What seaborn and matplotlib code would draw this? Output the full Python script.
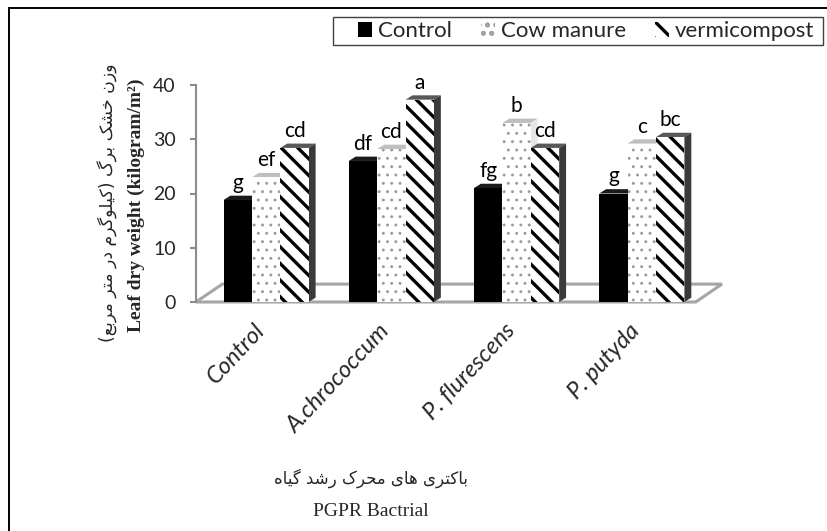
"""
Leaf dry weight of PGPR bacteria treatments under three fertilizers,
drawn as a pseudo-3D clustered bar chart.
"""

import numpy as np
import pandas as pd
import matplotlib
matplotlib.use('Agg')
import matplotlib.pyplot as plt
import seaborn as sns
from matplotlib.patches import Polygon, Patch, Rectangle
from matplotlib.transforms import ScaledTranslation

# data
bacteria = ['Control', 'A.chrococcum', 'P. flurescens', 'P. putyda']
fertilizers = ['Control', 'Cow manure', 'vermicompost']
control_vals = [18.8, 26.0, 21.0, 20.0]
cow_manure_vals = [23.0, 28.2, 33.0, 29.2]
vermicompost_vals = [28.4, 37.3, 28.4, 30.4]
control_letters = ['g', 'df', 'fg', 'g']
cow_manure_letters = ['ef', 'cd', 'b', 'c']
vermicompost_letters = ['cd', 'a', 'cd', 'bc']
y_ticks = [0, 10, 20, 30, 40]

y_label_fa = 'وزن خشک برگ (کیلوگرم در متر مربع)'
y_label_en = 'Leaf dry weight (kilogram/m\u00b2)'
x_label_fa = 'باکتری های محرک رشد گیاه'
x_label_en = 'PGPR Bactrial'

# Arabic presentation forms: isolated, final, initial, medial
FORMS = {
    'ا': ('\uFE8D', '\uFE8E', None, None),
    'ب': ('\uFE8F', '\uFE90', '\uFE91', '\uFE92'),
    'ت': ('\uFE95', '\uFE96', '\uFE97', '\uFE98'),
    'ح': ('\uFEA1', '\uFEA2', '\uFEA3', '\uFEA4'),
    'خ': ('\uFEA5', '\uFEA6', '\uFEA7', '\uFEA8'),
    'د': ('\uFEA9', '\uFEAA', None, None),
    'ر': ('\uFEAD', '\uFEAE', None, None),
    'ز': ('\uFEAF', '\uFEB0', None, None),
    'ش': ('\uFEB5', '\uFEB6', '\uFEB7', '\uFEB8'),
    'ع': ('\uFEC9', '\uFECA', '\uFECB', '\uFECC'),
    'ل': ('\uFEDD', '\uFEDE', '\uFEDF', '\uFEE0'),
    'م': ('\uFEE1', '\uFEE2', '\uFEE3', '\uFEE4'),
    'ن': ('\uFEE5', '\uFEE6', '\uFEE7', '\uFEE8'),
    'ه': ('\uFEE9', '\uFEEA', '\uFEEB', '\uFEEC'),
    'و': ('\uFEED', '\uFEEE', None, None),
    'ک': ('\uFB8E', '\uFB8F', '\uFB90', '\uFB91'),
    'گ': ('\uFB92', '\uFB93', '\uFB94', '\uFB95'),
    'ی': ('\uFBFC', '\uFBFD', '\uFBFE', '\uFBFF'),
}


def shape_rtl(text):
    """Join Persian letters and put them in visual (left-to-right) order."""
    out = []
    for i, ch in enumerate(text):
        if ch not in FORMS:
            out.append(ch)
            continue
        iso, fin, ini, med = FORMS[ch]
        prev = text[i - 1] if i > 0 else ''
        nxt = text[i + 1] if i + 1 < len(text) else ''
        join_prev = prev in FORMS and FORMS[prev][2] is not None
        join_next = nxt in FORMS and ini is not None
        if join_prev and join_next:
            out.append(med)
        elif join_prev:
            out.append(fin)
        elif join_next:
            out.append(ini)
        else:
            out.append(iso)
    visual = ''.join(reversed(out))
    return visual.translate(str.maketrans('()', ')('))


sns.set_style('white')
plt.rcParams['font.family'] = ['Lato', 'DejaVu Sans']
plt.rcParams['hatch.linewidth'] = 2.4

df = pd.DataFrame({
    'bacteria': bacteria * 3,
    'fertilizer': np.repeat(fertilizers, len(bacteria)),
    'weight': control_vals + cow_manure_vals + vermicompost_vals,
})

W, H = 828, 531
fig = plt.figure(figsize=(W / 100, H / 100), dpi=100)
ax = fig.add_axes([196 / W, 1 - 302 / H, (722 - 196) / W, (302 - 85) / H])

sns.barplot(data=df, x='bacteria', y='weight', hue='fertilizer',
            order=bacteria, hue_order=fertilizers,
            palette=['black', 'white', 'white'], saturation=1,
            width=0.68, gap=0, errorbar=None, legend=False,
            linewidth=0, ax=ax)

x_left, x_right = -0.56, 3.64
ax.set_xlim(x_left, x_right)
ax.set_ylim(0, 40)

# floor of the 3D plot
fdx, fdy = 0.21, 3.3
floor = Polygon([(x_left, 0), (x_left + fdx, fdy), (x_right, fdy),
                 (x_right - fdx, 0)], closed=True, facecolor='white',
                edgecolor='#a6a6a6', linewidth=2.2, zorder=0.5, clip_on=False)
ax.add_patch(floor)

hatches = [None, '..', '\\\\']
hatch_widths = [1.0, 0.9, 2.4]
edge_colors = ['black', '#9a9a9a', 'black']
cap_colors = ['#1a1a1a', '#bfbfbf', '#595959']
side_colors = ['black', '#e6e6e6', '#3a3a3a']
letters = [control_letters, cow_manure_letters, vermicompost_letters]

dx, dy = 0.055, 0.8
for k, container in enumerate(ax.containers):
    for j, bar in enumerate(container.patches):
        z = 2 + 0.1 * k
        bar.set_zorder(z)
        bar.set_edgecolor(edge_colors[k])
        bar.set_linewidth(0)
        if hatches[k]:
            bar.set_hatch(hatches[k])
            if hasattr(bar, 'set_hatch_linewidth'):
                bar.set_hatch_linewidth(hatch_widths[k])
        x, w, h = bar.get_x(), bar.get_width(), bar.get_height()
        cap = Polygon([(x, h), (x + dx, h + dy), (x + w + dx, h + dy), (x + w, h)],
                      closed=True, facecolor=cap_colors[k], edgecolor='none',
                      zorder=z - 0.05, clip_on=False)
        side = Polygon([(x + w, 0), (x + w, h), (x + w + dx, h + dy), (x + w + dx, dy)],
                       closed=True, facecolor=side_colors[k], edgecolor='none',
                       zorder=z - 0.05, clip_on=False)
        ax.add_patch(cap)
        ax.add_patch(side)
        ax.text(x + w / 2, h + 1.3, letters[k][j], ha='center', va='bottom',
                fontsize=15, color='black', clip_on=False, zorder=5)

# axes styling
for side_name in ['top', 'right', 'bottom']:
    ax.spines[side_name].set_visible(False)
ax.spines['left'].set_color('#8c8c8c')
ax.spines['left'].set_linewidth(1.5)
ax.set_yticks(y_ticks)
ax.tick_params(axis='y', length=4.5, width=1.5, color='#8c8c8c',
               labelsize=14, labelcolor='#262626', pad=10, left=True)
ax.set_xticks(range(len(bacteria)))
ax.set_xticklabels(bacteria, rotation=47, ha='right', rotation_mode='anchor',
                   fontstyle='italic', fontsize=17)
ax.tick_params(axis='x', length=0, pad=13)
shift = ScaledTranslation(-13 / 100, 0, fig.dpi_scale_trans)
for lbl in ax.get_xticklabels():
    lbl.set_transform(lbl.get_transform() + shift)
ax.set_xlabel('')
ax.set_ylabel('')
ax.grid(False)

# axis titles
fig.text(108 / W, 1 - 203 / H, shape_rtl(y_label_fa), rotation=90,
         ha='center', va='center', fontsize=12.5, family=['DejaVu Sans'])
fig.text(136 / W, 1 - 205 / H, y_label_en, rotation=90, ha='center',
         va='center', fontsize=14, fontweight='bold',
         family=['Liberation Serif'])
fig.text(371 / W, 1 - 478 / H, shape_rtl(x_label_fa), ha='center',
         va='center', fontsize=12, family=['DejaVu Sans'])
fig.text(371 / W, 1 - 512 / H, x_label_en, ha='center', va='center',
         fontsize=14, family=['Liberation Serif'])

# legend (frame drawn separately to match the reference box)
handles = [Patch(facecolor='black', edgecolor='black', linewidth=0),
           Patch(facecolor='white', edgecolor='#9a9a9a', hatch='..', linewidth=0),
           Patch(facecolor='white', edgecolor='black', hatch='\\\\', linewidth=0)]
fig.legend(handles, fertilizers, loc='center',
           bbox_to_anchor=(586 / W, 1 - 31 / H), ncol=3, fontsize=16,
           frameon=False, handlelength=0.65, handleheight=0.65,
           handletextpad=0.25, columnspacing=1.3, borderpad=0,
           borderaxespad=0)
fig.add_artist(Rectangle((333 / W, 1 - 45 / H), (823 - 333) / W, 28 / H,
                         transform=fig.transFigure, fill=False,
                         edgecolor='#404040', linewidth=1.0))

# outer border of the picture (left and top edges visible)
fig.add_artist(Rectangle((9 / W, -1), 5, 2 - 8 / H, transform=fig.transFigure,
                         fill=False, edgecolor='black', linewidth=1.4))

fig.savefig('out.png', dpi=100)
